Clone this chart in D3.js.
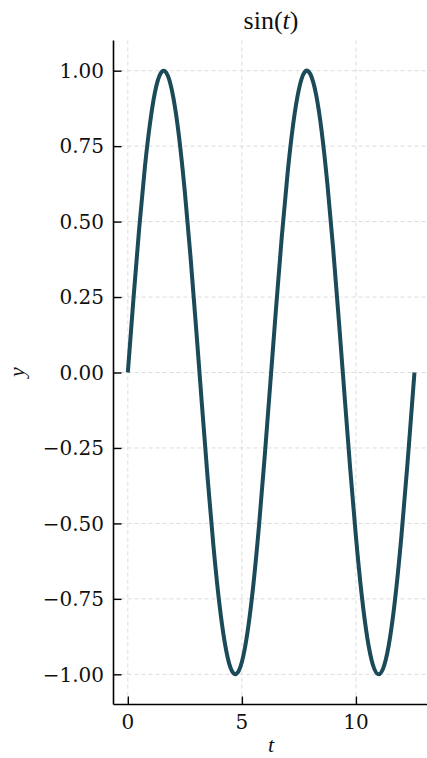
<!DOCTYPE html>
<html><head><meta charset="utf-8">
<script src="https://cdn.jsdelivr.net/npm/d3@7"></script>
<style>html,body{margin:0;padding:0;background:#fff;overflow:hidden}</style>
</head><body>
<svg id="chart" width="427" height="758"></svg>
<script>
const tValues = [0,0.25,0.5,0.75,1,1.25,1.5,1.75,2,2.25,2.5,2.75,3,3.25,3.5,3.75,4,4.25,4.5,4.75,5,5.25,5.5,5.75,6,6.25,6.5,6.75,7,7.25,7.5,7.75,8,8.25,8.5,8.75,9,9.25,9.5,9.75,10,10.25,10.5,10.75,11,11.25,11.5,11.75,12,12.25,12.5,12.566];
const yValues = [0,0.247,0.479,0.682,0.841,0.949,0.997,0.984,0.909,0.778,0.598,0.382,0.141,-0.108,-0.351,-0.572,-0.757,-0.895,-0.978,-0.999,-0.959,-0.859,-0.706,-0.508,-0.279,-0.033,0.215,0.450,0.657,0.823,0.938,0.995,0.989,0.922,0.798,0.624,0.412,0.174,-0.075,-0.319,-0.544,-0.735,-0.880,-0.970,-1.000,-0.968,-0.876,-0.729,-0.537,-0.311,-0.066,0];
const xTicks = [0,5,10];
const yTicks = [-1,-0.75,-0.5,-0.25,0,0.25,0.5,0.75,1];

const svg = d3.select("#chart");
const pL = 113.5, pR = 428.8, pT = 40.5, pB = 704.5;
const x = d3.scaleLinear().domain([-0.628, 13.195]).range([pL, pR]);
const y = d3.scaleLinear().domain([-1.1, 1.1]).range([pB, pT]);

const grid = svg.append("g");
grid.selectAll(".gx").data(xTicks).enter().append("line")
  .attr("x1", d => x(d)).attr("x2", d => x(d)).attr("y1", pT).attr("y2", pB)
  .attr("stroke", "#dcdcdc").attr("stroke-width", 1).attr("stroke-dasharray", "4,3");
grid.selectAll(".gy").data(yTicks).enter().append("line")
  .attr("x1", pL).attr("x2", pR).attr("y1", d => y(d)).attr("y2", d => y(d))
  .attr("stroke", "#dcdcdc").attr("stroke-width", 1).attr("stroke-dasharray", "4,3");

const pts = tValues.map((t, i) => [t, yValues[i]]);
svg.append("path").datum(pts)
  .attr("fill", "none").attr("stroke", "#1b4a59").attr("stroke-width", 4)
  .attr("d", d3.line().x(d => x(d[0])).y(d => y(d[1])).curve(d3.curveNatural));

const fmt = d => (d < 0 ? "\u2212" : "") + Math.abs(d).toFixed(2);
const yAxis = svg.append("g").attr("transform", `translate(${pL},0)`)
  .call(d3.axisRight(y).tickValues(yTicks).tickSize(8).tickFormat(""));
const xAxis = svg.append("g").attr("transform", `translate(0,${pB})`)
  .call(d3.axisTop(x).tickValues(xTicks).tickSize(8).tickFormat(""));
[yAxis, xAxis].forEach(a => {
  a.select(".domain").attr("stroke", "#000").attr("stroke-width", 1.6);
  a.selectAll(".tick line").attr("stroke", "#000").attr("stroke-width", 1.4);
});
xAxis.select(".domain").attr("d", `M${pL},0H${pR}`);
yAxis.select(".domain").attr("d", `M0,${pT}V${pB}`);

svg.append("g").selectAll("text").data(yTicks).enter().append("text")
  .attr("x", 104).attr("y", d => y(d)).attr("dy", "0.36em")
  .attr("text-anchor", "end").attr("font-family", "DejaVu Serif").attr("font-size", 20)
  .attr("fill", "#111").text(fmt);
svg.append("g").selectAll("text").data(xTicks).enter().append("text")
  .attr("x", d => x(d)).attr("y", 729)
  .attr("text-anchor", "middle").attr("font-family", "DejaVu Serif").attr("font-size", 20)
  .attr("fill", "#111").text(d => d);

const title = svg.append("text").attr("x", 271).attr("y", 29).attr("text-anchor", "middle")
  .attr("font-family", "Liberation Serif, serif").attr("font-size", 26).attr("fill", "#111");
title.append("tspan").text("sin(");
title.append("tspan").attr("font-style", "italic").text("t");
title.append("tspan").text(")");

svg.append("text").attr("x", 271).attr("y", 752).attr("text-anchor", "middle")
  .attr("font-family", "Liberation Serif, serif").attr("font-style", "italic").attr("font-size", 22)
  .attr("fill", "#111").text("t");
svg.append("text").attr("transform", "translate(24,372) rotate(-90)").attr("text-anchor", "middle")
  .attr("font-family", "Liberation Serif, serif").attr("font-style", "italic").attr("font-size", 22)
  .attr("fill", "#111").text("y");
</script>
</body></html>
